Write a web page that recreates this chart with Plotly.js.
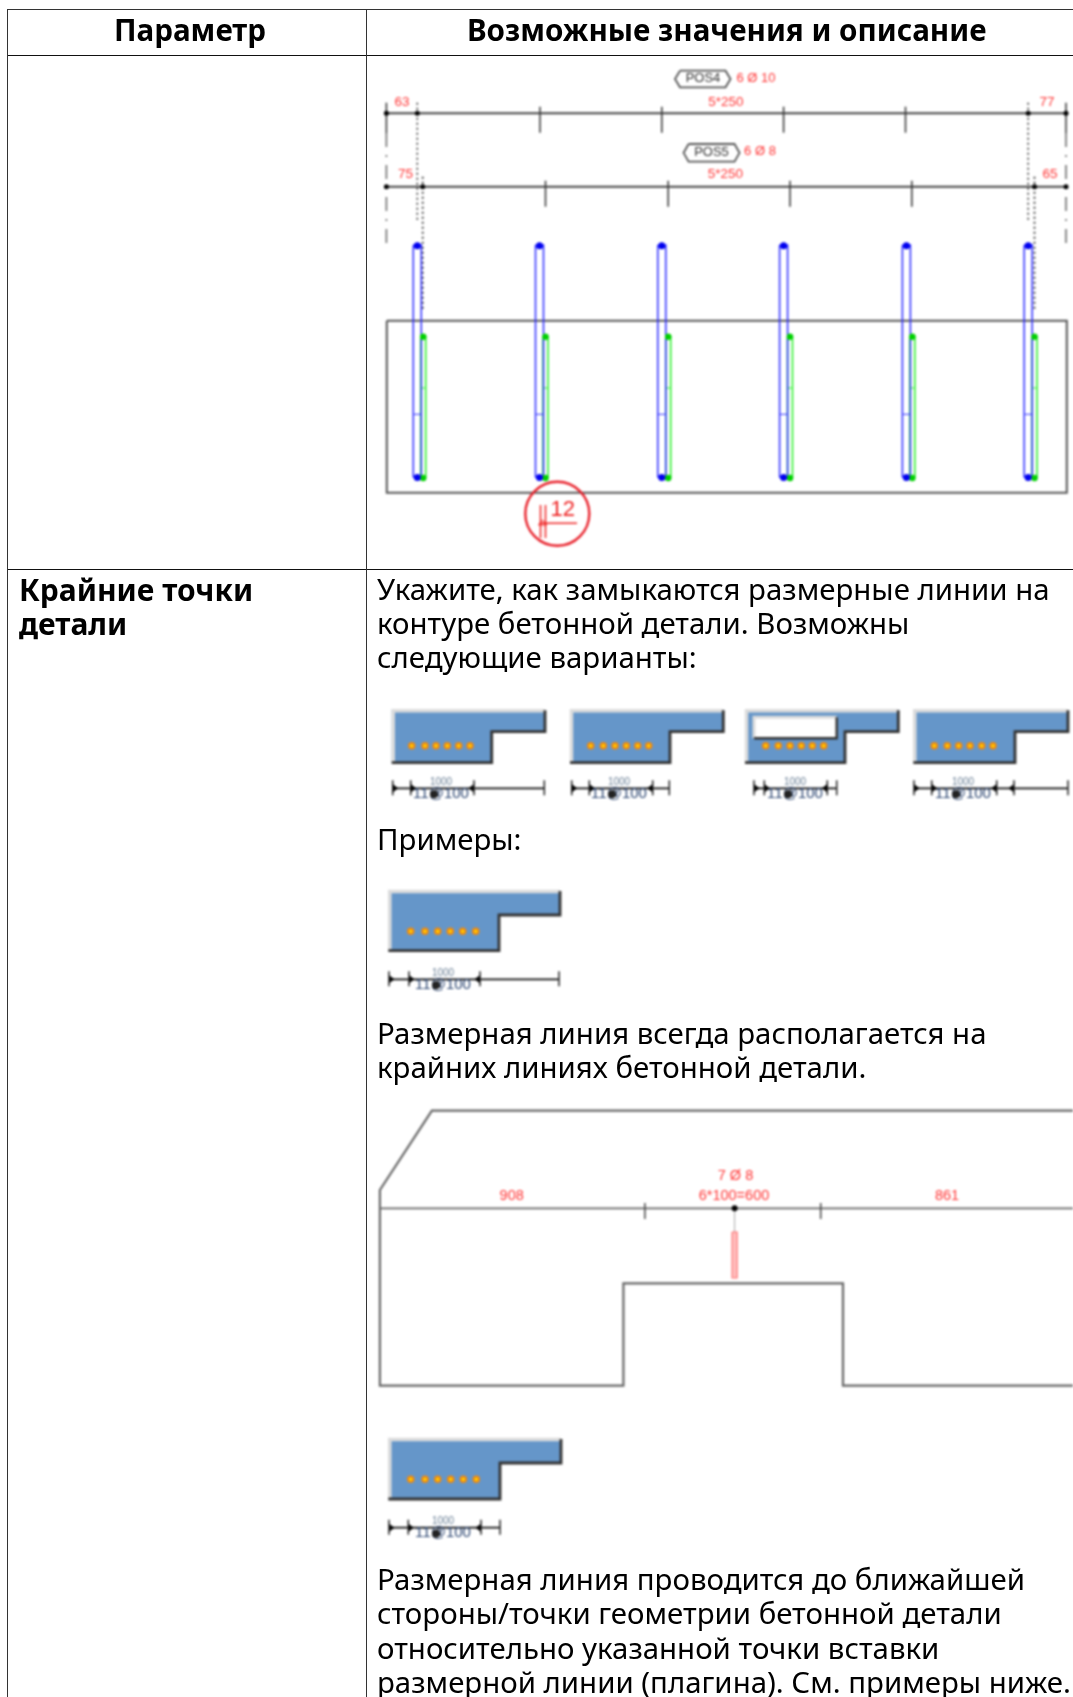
<!DOCTYPE html>
<html><head><meta charset="utf-8">
<script src="https://cdn.plot.ly/plotly-3.0.1.min.js"></script>
<style>html,body{margin:0;padding:0;background:#fff}#c{width:1073px;height:1697px}</style>
</head><body><div id="c"></div>
<script>
// ---- Table text
const headerLabels = ["Параметр", "Возможные значения и описание"];
const paramLines = ["Крайние точки", "детали"];
const descLines = ["Укажите, как замыкаются размерные линии на", "контуре бетонной детали. Возможны", "следующие варианты:", "Примеры:",
  "Размерная линия всегда располагается на", "крайних линиях бетонной детали.",
  "Размерная линия проводится до ближайшей", "стороны/точки геометрии бетонной детали", "относительно указанной точки вставки", "размерной линии (плагина). См. примеры ниже."];
const descLineY = [589, 623, 657, 838.5, 1032.5, 1067, 1578.5, 1613, 1647.5, 1681.5];
const paramLineY = [589, 623];
// ---- Rebar drawing
const barX = [417.3, 539.5, 661.8, 783.6, 906.4, 1028.2];
const greenX = [423.2, 545.5, 668.2, 790, 912.3, 1034.5];
const dimTop = [386.4, 417.3, 540, 661.8, 783.6, 905.5, 1028.2, 1066];
const dimBottom = [386.4, 422.7, 545.5, 668.2, 790, 911.8, 1034.5, 1066];
const rebarLabels = ["63", "5*250", "77", "75", "5*250", "65"];
const rebarLabelX = [402, 726, 1047, 405.5, 725.5, 1050];
const rebarLabelY = [102.5, 102.5, 102.5, 174.5, 174.5, 175];
const tagLabels = ["POS4", "POS5"], tagX = [703, 711.5], tagY = [79, 152.5];
const countLabels = ["6 Ø 10", "6 Ø 8"], countX = [756, 760], countY = [79, 152];
// ---- Glyphs: left, right, top, stepY, stepX, bottom
const glyphs = [
 {l:391.7,r:545,t:709.3,sy:731.7,sx:491.7,b:762.7,dots:[411.7,425,436,447.3,458.7,470],dy:745.7,ticks:[392.7,410.7,474,544.3],dimY:788.3,cx:441},
 {l:570,r:723.3,t:709.3,sy:731.7,sx:670,b:762.7,dots:[590.7,603.3,615,626.3,637.7,648.7],dy:745.7,ticks:[571.7,589.3,652.7,669.3],dimY:788.3,cx:619},
 {l:745,r:898.3,t:709.3,sy:731.7,sx:845,b:762.7,dots:[765.7,778.3,790,801.3,812.3,823.7],dy:745.7,ticks:[754,764.3,827.3,836.7],dimY:788.3,cx:795,hole:[754,836.7,717.3,738.3]},
 {l:913.3,r:1068,t:709.3,sy:731.7,sx:1015,b:762.7,dots:[934.3,947.3,958.7,970,981.7,993],dy:745.7,ticks:[914,931.7,996.7,1014,1068],dimY:788.3,cx:963},
 {l:388.3,r:560,t:890,sy:915,sx:499,b:950.7,dots:[410.7,425,437.7,450.3,462.7,475.7],dy:931.3,ticks:[389,409,480,559],dimY:979.3,cx:443},
 {l:388.3,r:561,t:1438,sy:1463,sx:500,b:1499,dots:[410.7,425,437.7,450.7,463.3,476.3],dy:1479.3,ticks:[389,408.3,481,500],dimY:1527.7,cx:443}
];
const glyphTop = "1000", glyphBottom = "11@100";
// ---- Section drawing
const sectionX = [1073, 431.9, 379.9, 379.9, 623.4, 623.4, 843, 843, 1073];
const sectionY = [1110.7, 1110.7, 1190, 1385.7, 1385.7, 1283.3, 1283.3, 1385.7, 1385.7];
const sectionLabels = ["908", "6*100=600", "861", "7 Ø 8"];
const sectionLabelX = [511.7, 734, 947, 735.5];
const sectionLabelY = [1196, 1196, 1196, 1176];

const traces = [];
function seg(xs, ys, color, width, dash, extra) {
  traces.push(Object.assign({type:'scatter', mode:'lines', x:xs, y:ys, line:{color, width, dash:dash||'solid'}, hoverinfo:'skip'}, extra||{}));
}
function pts(xs, ys, color, size, symbol) {
  traces.push({type:'scatter', mode:'markers', x:xs, y:ys, marker:{color, size, symbol:symbol||'circle', line:{width:0}}, hoverinfo:'skip'});
}
function txt(xs, ys, labels, color, size) {
  traces.push({type:'scatter', mode:'text', x:xs, y:ys, text:labels, textposition:'middle center', textfont:{family:'"Liberation Sans Narrow","Liberation Sans"', color, size}, hoverinfo:'skip'});
}
function ticks(xs, y0, y1, color, width) {
  const X=[], Y=[]; xs.forEach(v=>{X.push(v,v,null);Y.push(y0,y1,null);}); seg(X,Y,color,width);
}
const GR='#444', RED='#ff3434';
// rebar dim lines
seg([386.4,1066],[113.3,113.3],GR,2); seg([386.4,1066],[186.7,186.7],GR,2);
ticks(dimTop.slice(2,6),106.7,132.7,'#333',1.5); ticks(dimBottom.slice(2,6),180.7,206.7,'#333',1.5);
ticks([386.4,1066],102.7,133,'#333',1.5);
seg([386.4,386.4],[133,245],'#666',1.5,'14px,8px,2px,8px'); seg([1066,1066],[133,245],'#666',1.5,'14px,8px,2px,8px');
ticks([417.3,1028.2],102.7,221.7,'#333',1.5); traces[traces.length-1].line.dash='2px,3px';
ticks([422.7,1034.5],176.7,309,'#333',1.7); traces[traces.length-1].line.dash='2px,3px';
pts([386.4,417.3,1028.2,1066],[113.3,113.3,113.3,113.3],'#000',5);
pts([386.4,422.7,1034.5,1066],[186.7,186.7,186.7,186.7],'#000',5);
// concrete
seg([386.8,1066.8,1066.8,386.8,386.8],[320.7,320.7,492.7,492.7,320.7],'#555',2);
// bars
greenX.forEach(v=>{seg([v-2.5,v-2.5,v+2.5,v+2.5],[478,336.7,336.7,478],'#22ee22',1.5); seg([v-2.5,v+2.5],[388,388],'#33ee33',1);});
barX.forEach(v=>{seg([v-4,v-4,v+4,v+4,v-4],[245,477,477,245,245],'#2a2aff',1.5); seg([v-4,v+4],[414.3,414.3],'#3333ff',1);});
pts(greenX,greenX.map(()=>336.7),'#00d000',6.5); pts(greenX,greenX.map(()=>478),'#00d000',6.5);
pts(barX,barX.map(()=>245.7),'#0000ee',7); pts(barX,barX.map(()=>477.5),'#0000ee',7);
txt(rebarLabelX,rebarLabelY,rebarLabels,RED,13.5);
txt(countX,countY,countLabels,RED,13);
txt(tagX,tagY,tagLabels,'#333',13);
[[675,730.5,70.7,87.3],[683.6,739.5,144,161.7]].forEach(p=>{const m=(p[2]+p[3])/2;
  seg([p[0]+5,p[1]-5,p[1],p[1]-5,p[0]+5,p[0],p[0]+5],[p[2],p[2],m,p[3],p[3],m,p[2]],'#555',1.8);});
// red callout
traces.push({type:'scatter',mode:'markers',x:[557.3],y:[513.7],marker:{size:64,symbol:'circle-open',color:'#e8202a',line:{width:2.4,color:'#e8202a'}},hoverinfo:'skip'});
ticks([540.5,545.5],505,538,'#ee2222',1.5);
seg([539.5,577],[523.3,523.3],'#ee2222',1.5);
pts([542.5],[523.3],'#ee2222',7,'triangle-up-open');
txt([562.7],[510],["12"],'#ee2222',22);
// glyphs
glyphs.forEach(g=>{
  traces.push({type:'scatter',mode:'lines',x:[g.l,g.r,g.r,g.sx,g.sx,g.l,g.l],y:[g.t,g.t,g.sy,g.sy,g.b,g.b,g.t],fill:'toself',fillcolor:'#6596c9',line:{width:0,color:'#6596c9'},hoverinfo:'skip'});
  seg([g.l+1.5,g.l+1.5,g.r],[g.b,g.t+1.5,g.t+1.5],'#dcdcdc',3.5);
  seg([g.r,g.r,g.sx,g.sx,g.l],[g.t+1,g.sy,g.sy,g.b,g.b],'#333',2.8);
  if(g.hole){const h=g.hole;
    traces.push({type:'scatter',mode:'lines',x:[h[0],h[1],h[1],h[0],h[0]],y:[h[2],h[2],h[3],h[3],h[2]],fill:'toself',fillcolor:'#fff',line:{width:0,color:'#fff'},hoverinfo:'skip'});
    seg([h[0],h[0],h[1]],[h[3],h[2],h[2]],'#dcdcdc',3); seg([h[1],h[1],h[0]],[h[2],h[3],h[3]],'#333',2.4);}
  pts(g.dots,g.dots.map(()=>g.dy),'#f08a10',7.5); pts(g.dots,g.dots.map(()=>g.dy),'#ffe000',3);
  seg([g.ticks[0],g.ticks[g.ticks.length-1]],[g.dimY,g.dimY],'#111',1.8);
  ticks(g.ticks,g.dimY-8,g.dimY+7,'#222',1.5);
  pts(g.ticks.slice(0,2).map(v=>v+2),[g.dimY,g.dimY],'#000',7,'triangle-right');
  pts([g.ticks[2]-2],[g.dimY],'#000',7,'triangle-left');
  if(g.ticks.length>4) pts([g.ticks[3]-2],[g.dimY],'#000',7,'triangle-left');
  txt([g.cx],[g.dimY-6],[glyphTop],'#6a7f95',10);
  txt([g.cx],[g.dimY+6],[glyphBottom],'#2a4470',15);
  pts([g.cx-7],[g.dimY+6],'#222',8);
});
// section
seg(sectionX,sectionY,'#666',2.2);
seg([379.9,1073],[1208.3,1208.3],'#666',1.8);
ticks([644.9,820.7],1203,1219,'#444',1.5);
seg([734.6,734.6],[1208.3,1232],'#aaa',1);
traces.push({type:'scatter',mode:'lines',x:[732.1,737.1,737.1,732.1,732.1],y:[1232,1232,1278,1278,1232],fill:'toself',fillcolor:'#ffc0c0',line:{width:1.2,color:'#ff7070'},hoverinfo:'skip'});
pts([734.6],[1208.3],'#000',6);
txt(sectionLabelX,sectionLabelY,sectionLabels,RED,14.5);

const bodyFont='"Noto Sans"', anns=[];
function ann(x,y,t,anchor,size,weight){anns.push({x,y,xref:'x',yref:'y',text:t,showarrow:false,xanchor:anchor,yanchor:'middle',borderpad:0,font:{family:bodyFont,size,color:'#000',weight:weight||400}});}
ann(189.5,29.5,headerLabels[0],'center',29.6,700);
ann(726.5,29.5,headerLabels[1],'center',29.6,700);
paramLines.forEach((t,i)=>ann(17.5,paramLineY[i],t,'left',30,700));
descLines.forEach((t,i)=>ann(375.5,descLineY[i],t,'left',29.4,400));

function hl(x0,x1,y,c,w){return {type:'line',xref:'x',yref:'y',x0,x1,y0:y,y1:y,line:{color:c,width:w},layer:'below'};}
function vl(x,y0,y1,c,w){return {type:'line',xref:'x',yref:'y',x0:x,x1:x,y0,y1,line:{color:c,width:w},layer:'below'};}
const shapes=[hl(7,1073,9.5,'#333',1),hl(7,1073,55.5,'#111',1),hl(7,1073,569.5,'#111',1),vl(7.5,9,1697,'#333',1),vl(366.5,9,1697,'#333',1)];
Plotly.newPlot('c',traces,{width:1073,height:1697,margin:{l:0,r:0,t:0,b:0},paper_bgcolor:'#fff',plot_bgcolor:'#fff',showlegend:false,
  xaxis:{range:[0,1073],visible:false,fixedrange:true},yaxis:{range:[1697,0],visible:false,fixedrange:true},shapes,annotations:anns},{staticPlot:true}).then(()=>{
  document.querySelectorAll('.scatterlayer').forEach(e=>{e.style.filter='blur(1px)';});
});
</script></body></html>
